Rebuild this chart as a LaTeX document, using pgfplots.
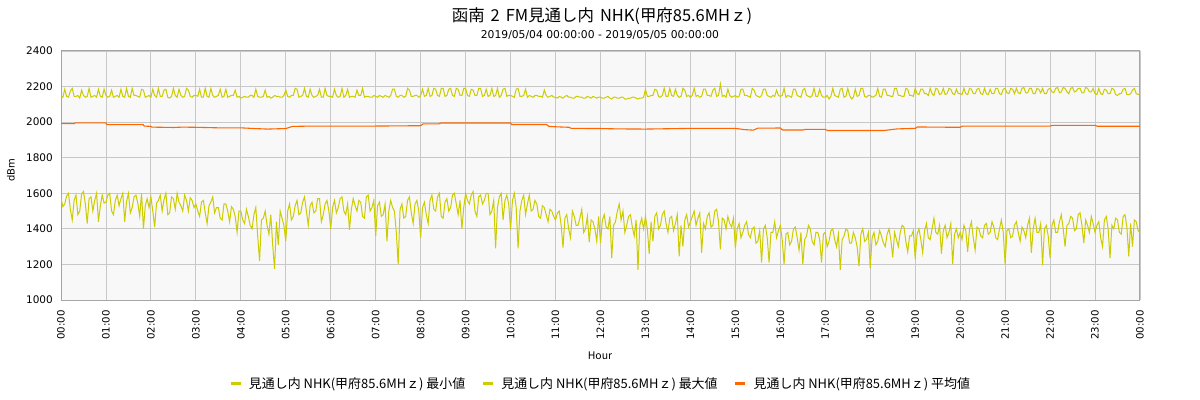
\documentclass[border=0pt]{standalone}
\usepackage{pgfplots}
\pgfplotsset{compat=1.18}
\usepackage{pgfplotstable}
\usepackage{fontspec}
\setmainfont{DejaVu Sans}
\newfontfamily\cjk{Noto Sans CJK JP}
\definecolor{ylw}{RGB}{204,204,0}
\definecolor{org}{RGB}{255,102,0}
\definecolor{bgc}{RGB}{248,248,248}
\definecolor{grd}{RGB}{200,200,200}
\definecolor{axc}{RGB}{165,165,165}

% minimum, one value every 2.5 minutes
\pgfplotstableread[row sep=\\]{
v\\
1570\\1525\\1540\\1585\\1600\\1510\\1450\\1560\\1590\\1480\\1500\\1595\\1610\\1540\\1430\\1570\\1580\\1500\\1560\\1600\\1440\\1530\\1590\\1545\\
1550\\1590\\1600\\1500\\1480\\1560\\1590\\1530\\1570\\1600\\1440\\1555\\1600\\1490\\1520\\1580\\1590\\1545\\1470\\1600\\1400\\1530\\1570\\1520\\
1580\\1500\\1410\\1545\\1560\\1590\\1500\\1565\\1600\\1480\\1490\\1580\\1570\\1510\\1600\\1550\\1530\\1500\\1590\\1560\\1500\\1575\\1560\\1520\\
1540\\1500\\1470\\1550\\1560\\1490\\1430\\1530\\1550\\1580\\1490\\1520\\1520\\1460\\1450\\1540\\1540\\1500\\1440\\1525\\1510\\1470\\1380\\1500\\
1500\\1450\\1430\\1510\\1470\\1420\\1400\\1480\\1520\\1360\\1220\\1450\\1460\\1500\\1420\\1370\\1480\\1310\\1175\\1440\\1310\\1500\\1460\\1420\\
1330\\1500\\1540\\1450\\1470\\1530\\1560\\1480\\1490\\1550\\1580\\1500\\1420\\1530\\1550\\1490\\1500\\1570\\1570\\1440\\1480\\1540\\1560\\1500\\
1400\\1520\\1560\\1490\\1520\\1570\\1580\\1500\\1480\\1540\\1395\\1510\\1570\\1530\\1500\\1560\\1550\\1470\\1460\\1580\\1590\\1500\\1520\\1560\\
1360\\1530\\1550\\1470\\1480\\1540\\1330\\1500\\1560\\1520\\1500\\1380\\1200\\1510\\1540\\1460\\1470\\1560\\1580\\1490\\1430\\1540\\1560\\1500\\
1350\\1520\\1550\\1480\\1430\\1560\\1590\\1510\\1500\\1580\\1600\\1470\\1460\\1550\\1570\\1500\\1520\\1590\\1600\\1540\\1480\\1560\\1400\\1520\\
1600\\1560\\1540\\1590\\1610\\1500\\1470\\1580\\1590\\1540\\1560\\1600\\1600\\1480\\1500\\1560\\1290\\1520\\1580\\1600\\1450\\1560\\1590\\1540\\
1395\\1560\\1600\\1520\\1290\\1500\\1560\\1590\\1480\\1540\\1590\\1500\\1510\\1560\\1540\\1470\\1460\\1530\\1520\\1480\\1440\\1510\\1500\\1470\\
1450\\1490\\1500\\1420\\1295\\1460\\1480\\1400\\1350\\1500\\1470\\1420\\1420\\1460\\1510\\1380\\1400\\1470\\1325\\1450\\1440\\1400\\1330\\1470\\
1320\\1450\\1480\\1410\\1400\\1470\\1235\\1420\\1440\\1500\\1540\\1450\\1500\\1380\\1420\\1470\\1480\\1410\\1360\\1450\\1170\\1420\\1460\\1400\\
1470\\1400\\1260\\1440\\1330\\1470\\1490\\1400\\1420\\1480\\1500\\1430\\1380\\1460\\1470\\1390\\1430\\1480\\1245\\1420\\1300\\1450\\1480\\1410\\
1440\\1470\\1500\\1420\\1460\\1490\\1265\\1430\\1400\\1470\\1490\\1410\\1420\\1500\\1510\\1440\\1285\\1460\\1450\\1400\\1470\\1430\\1410\\1460\\
1290\\1400\\1430\\1350\\1380\\1420\\1440\\1370\\1350\\1400\\1410\\1320\\1330\\1390\\1210\\1400\\1420\\1350\\1210\\1380\\1380\\1440\\1350\\1390\\
1420\\1340\\1200\\1370\\1380\\1310\\1330\\1400\\1410\\1350\\1280\\1380\\1200\\1340\\1360\\1420\\1400\\1330\\1310\\1380\\1380\\1340\\1210\\1370\\
1380\\1300\\1330\\1390\\1400\\1340\\1300\\1370\\1170\\1340\\1360\\1400\\1390\\1320\\1320\\1380\\1350\\1300\\1190\\1370\\1400\\1330\\1340\\1380\\
1180\\1350\\1380\\1310\\1330\\1390\\1360\\1320\\1300\\1370\\1400\\1340\\1240\\1380\\1340\\1300\\1380\\1420\\1410\\1330\\1270\\1360\\1360\\1390\\
1230\\1370\\1400\\1340\\1265\\1390\\1430\\1350\\1340\\1400\\1460\\1380\\1370\\1420\\1260\\1390\\1420\\1350\\1380\\1430\\1200\\1370\\1400\\1350\\
1380\\1340\\1420\\1390\\1270\\1400\\1440\\1350\\1280\\1410\\1400\\1360\\1350\\1420\\1430\\1370\\1380\\1440\\1410\\1350\\1340\\1400\\1450\\1380\\
1200\\1390\\1400\\1350\\1360\\1420\\1440\\1380\\1330\\1410\\1390\\1350\\1420\\1460\\1265\\1400\\1460\\1380\\1380\\1430\\1195\\1400\\1420\\1360\\
1235\\1420\\1450\\1380\\1380\\1440\\1480\\1400\\1300\\1420\\1430\\1470\\1460\\1390\\1400\\1480\\1490\\1420\\1320\\1450\\1420\\1380\\1470\\1430\\
1380\\1420\\1440\\1350\\1300\\1450\\1470\\1400\\1235\\1420\\1400\\1460\\1450\\1380\\1370\\1470\\1480\\1410\\1245\\1430\\1300\\1450\\1440\\1390\\
1375\\
}\minT

% maximum, one value every 2.5 minutes
\pgfplotstableread[row sep=\\]{
v\\
2150\\2140\\2185\\2145\\2140\\2175\\2190\\2145\\2145\\2150\\2135\\2180\\2150\\2140\\2145\\2190\\2140\\2145\\2150\\2140\\2185\\2145\\2140\\2185\\
2150\\2140\\2145\\2180\\2140\\2145\\2150\\2140\\2185\\2145\\2140\\2190\\2145\\2140\\2190\\2150\\2150\\2145\\2140\\2185\\2180\\2140\\2145\\2150\\
2140\\2185\\2150\\2140\\2190\\2145\\2145\\2180\\2185\\2140\\2135\\2145\\2190\\2150\\2140\\2185\\2150\\2140\\2145\\2190\\2180\\2145\\2140\\2150\\
2150\\2145\\2185\\2140\\2140\\2190\\2145\\2140\\2190\\2150\\2140\\2145\\2150\\2185\\2140\\2145\\2185\\2140\\2145\\2150\\2150\\2180\\2140\\2145\\
2135\\2140\\2145\\2140\\2140\\2150\\2150\\2140\\2185\\2145\\2140\\2140\\2145\\2180\\2140\\2145\\2135\\2140\\2150\\2145\\2145\\2140\\2140\\2150\\
2180\\2145\\2140\\2150\\2150\\2190\\2185\\2140\\2145\\2150\\2190\\2145\\2140\\2185\\2150\\2140\\2145\\2150\\2185\\2140\\2140\\2190\\2150\\2145\\
2145\\2140\\2185\\2150\\2140\\2145\\2190\\2140\\2150\\2185\\2140\\2145\\2145\\2140\\2180\\2150\\2150\\2190\\2140\\2145\\2145\\2140\\2140\\2150\\
2145\\2140\\2150\\2145\\2140\\2150\\2145\\2140\\2150\\2185\\2185\\2145\\2140\\2150\\2150\\2140\\2145\\2190\\2180\\2145\\2145\\2150\\2150\\2140\\
2150\\2185\\2145\\2150\\2190\\2145\\2150\\2190\\2185\\2150\\2145\\2190\\2190\\2145\\2150\\2185\\2190\\2150\\2145\\2190\\2185\\2150\\2150\\2190\\
2190\\2150\\2145\\2185\\2180\\2150\\2150\\2190\\2190\\2145\\2150\\2185\\2145\\2150\\2190\\2145\\2150\\2190\\2140\\2150\\2185\\2190\\2145\\2150\\
2150\\2145\\2140\\2185\\2190\\2145\\2145\\2150\\2185\\2140\\2150\\2145\\2140\\2150\\2150\\2145\\2145\\2140\\2180\\2150\\2140\\2145\\2150\\2140\\
2140\\2135\\2145\\2140\\2135\\2145\\2150\\2140\\2140\\2135\\2135\\2145\\2145\\2140\\2140\\2135\\2135\\2145\\2140\\2135\\2145\\2140\\2135\\2140\\
2140\\2135\\2135\\2140\\2145\\2135\\2130\\2140\\2140\\2135\\2135\\2140\\2140\\2130\\2130\\2135\\2135\\2140\\2140\\2135\\2130\\2135\\2135\\2140\\
2185\\2145\\2145\\2150\\2150\\2185\\2180\\2145\\2140\\2150\\2190\\2145\\2145\\2190\\2150\\2145\\2185\\2150\\2140\\2145\\2190\\2180\\2145\\2150\\
2140\\2150\\2190\\2145\\2150\\2140\\2145\\2185\\2185\\2150\\2150\\2145\\2180\\2190\\2145\\2150\\2215\\2145\\2150\\2140\\2185\\2150\\2140\\2145\\
2150\\2140\\2145\\2185\\2185\\2150\\2150\\2145\\2140\\2190\\2180\\2150\\2145\\2140\\2150\\2185\\2185\\2150\\2145\\2140\\2150\\2145\\2180\\2150\\
2145\\2150\\2190\\2140\\2150\\2145\\2140\\2185\\2185\\2150\\2145\\2140\\2180\\2190\\2150\\2145\\2140\\2150\\2190\\2145\\2145\\2185\\2150\\2140\\
2140\\2150\\2130\\2145\\2190\\2150\\2145\\2140\\2185\\2190\\2140\\2145\\2190\\2150\\2130\\2140\\2185\\2145\\2150\\2190\\2190\\2145\\2140\\2150\\
2150\\2140\\2145\\2150\\2190\\2145\\2140\\2185\\2185\\2150\\2150\\2145\\2145\\2190\\2190\\2150\\2150\\2145\\2145\\2190\\2185\\2150\\2150\\2145\\
2190\\2160\\2155\\2185\\2185\\2160\\2160\\2150\\2190\\2160\\2150\\2190\\2185\\2155\\2160\\2190\\2155\\2160\\2190\\2185\\2160\\2155\\2185\\2160\\
2160\\2155\\2190\\2160\\2155\\2190\\2185\\2160\\2160\\2185\\2190\\2160\\2155\\2190\\2160\\2155\\2185\\2160\\2160\\2190\\2190\\2160\\2155\\2185\\
2190\\2165\\2160\\2190\\2185\\2160\\2190\\2165\\2160\\2190\\2195\\2165\\2165\\2190\\2190\\2160\\2160\\2190\\2185\\2165\\2190\\2160\\2160\\2185\\
2190\\2170\\2165\\2190\\2195\\2165\\2170\\2195\\2190\\2170\\2160\\2190\\2195\\2170\\2175\\2190\\2190\\2165\\2165\\2195\\2190\\2170\\2170\\2190\\
2160\\2155\\2190\\2160\\2155\\2185\\2180\\2160\\2160\\2190\\2185\\2155\\2150\\2160\\2160\\2185\\2190\\2155\\2155\\2160\\2180\\2190\\2160\\2155\\
2165\\
}\maxT

% average (hour, value)
\pgfplotstableread[row sep=\\]{
h v\\
0 1992\\ 0.3 1992\\ 0.32 1996\\ 1.0 1996\\ 1.02 1986\\ 1.83 1986\\ 1.85 1978\\ 2.0 1976\\
2.02 1972\\ 2.5 1970\\ 2.7 1972\\ 3.0 1971\\ 3.5 1968\\ 4.0 1968\\ 4.3 1964\\ 4.6 1961\\
5.0 1964\\ 5.15 1976\\ 5.6 1978\\ 6.0 1978\\ 7.0 1978\\ 7.5 1979\\ 8.0 1980\\ 8.05 1990\\
8.4 1990\\ 8.45 1995\\ 9.0 1995\\ 10.0 1995\\ 10.02 1987\\ 10.8 1987\\ 10.85 1976\\
11.0 1974\\ 11.3 1971\\ 11.35 1965\\ 12.0 1964\\ 12.4 1962\\ 13.0 1961\\ 13.5 1963\\
14.0 1965\\ 15.0 1965\\ 15.2 1958\\ 15.4 1955\\ 15.5 1966\\ 16.0 1967\\ 16.05 1956\\
16.5 1956\\ 16.55 1959\\ 17.0 1959\\ 17.05 1953\\ 18.3 1953\\ 18.6 1962\\ 19.0 1965\\
19.05 1973\\ 19.4 1972\\ 20.0 1971\\ 20.05 1978\\ 22.0 1978\\ 22.05 1982\\ 23.0 1982\\
23.05 1977\\ 24.0 1977\\
}\avgT

\begin{document}
\begin{tikzpicture}
\path[use as bounding box] (0,0) rectangle (1200bp,400bp);
\begin{axis}[
  at={(61bp,100bp)}, anchor=south west,
  width=1079bp, height=249bp, scale only axis,
  xmin=0, xmax=24, ymin=1000, ymax=2400,
  xtick={0,1,...,24},
  xticklabels={00:00,01:00,02:00,03:00,04:00,05:00,06:00,07:00,08:00,09:00,10:00,11:00,12:00,13:00,14:00,15:00,16:00,17:00,18:00,19:00,20:00,21:00,22:00,23:00,00:00},
  ytick={1000,1200,...,2400},
  /pgf/number format/assume math mode=true,
  /pgf/number format/1000 sep={},
  yticklabel style={font=\fontsize{10.5}{12}\selectfont, inner sep=0pt, anchor=east, xshift=-8bp},
  xticklabel style={font=\fontsize{10.2}{12}\selectfont, rotate=90, inner sep=0pt, anchor=east},
  xticklabel shift=10bp,
  grid=major,
  major grid style={grd, line width=0.9bp},
  axis line style={axc, line width=1bp},
  axis background/.style={fill=bgc},
  major tick length=0pt,
  tick style={draw=none},
  legend style={at={(0.5,-0.337)}, anchor=center, draw=none, fill=none,
    font=\cjk\fontsize{13}{15}\selectfont,
    /tikz/every odd column/.append style={column sep=5bp},
    /tikz/every even column/.append style={column sep=14bp}},
  legend columns=3,
  legend image code/.code={\draw[#1, line width=3bp] (0bp,0bp) -- (10bp,0bp);},
]
\addplot[ylw, line width=1bp] table[x expr=\coordindex/24, y=v] {\minT};
\addlegendentry{見通し内 NHK(甲府85.6MHｚ) 最小値}
\addplot[ylw, line width=1bp] table[x expr=\coordindex/24, y=v] {\maxT};
\addlegendentry{見通し内 NHK(甲府85.6MHｚ) 最大値}
\addplot[org, line width=1.1bp] table[x=h, y=v] {\avgT};
\addlegendentry{見通し内 NHK(甲府85.6MHｚ) 平均値}
\end{axis}
\node[font=\cjk\fontsize{16.5}{19}\selectfont] at (602bp,384bp) {函南\hspace{6bp}2\hspace{6bp}FM見通し内\hspace{6bp}NHK(甲府85.6MHｚ)};
\node[font=\fontsize{10.8}{12}\selectfont] at (600bp,365bp) {2019/05/04 00:00:00 - 2019/05/05 00:00:00};
\node[font=\fontsize{10}{12}\selectfont, rotate=90] at (11bp,230bp) {dBm};
\node[font=\cjk\fontsize{10.5}{12}\selectfont] at (600bp,44bp) {Hour};
\end{tikzpicture}
\end{document}
